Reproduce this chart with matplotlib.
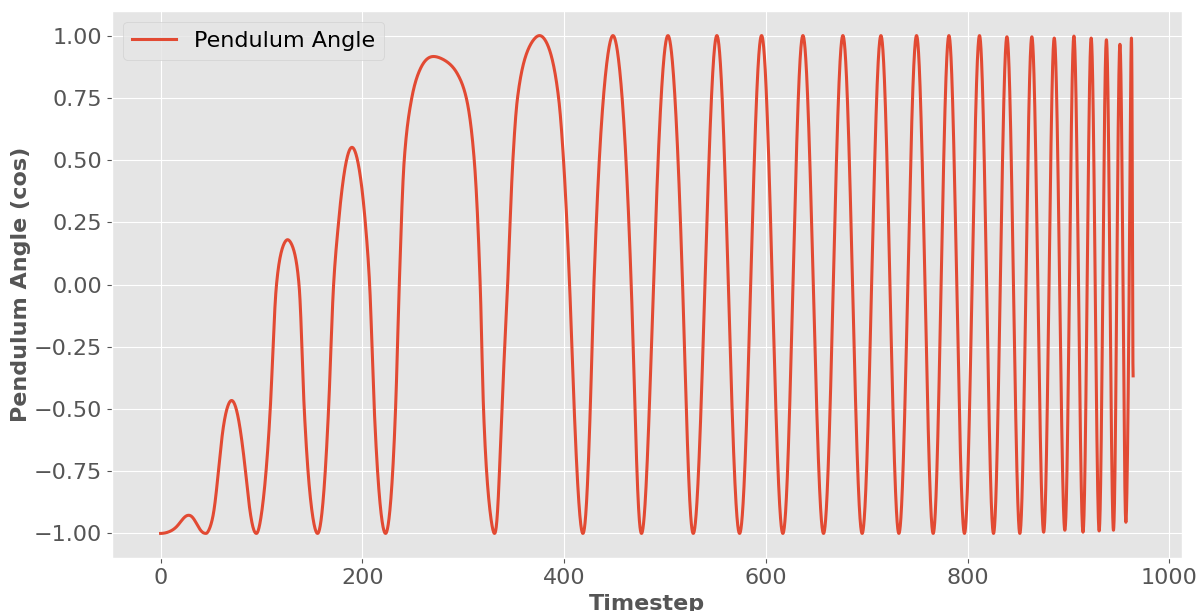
import numpy as np
import matplotlib
matplotlib.use("Agg")
import matplotlib.pyplot as plt

# cos(angle) of the pendulum at selected timesteps (turning points + a few crossings)
timestep = [
    0, 14.5, 27.8, 45, 52.5, 57.5, 61.8, 70.4, 79, 84, 88.9, 95,
    108.7, 114.9, 125.9, 137.2, 142.4, 155.6,
    166.5, 171.5, 176.4, 189.7, 202.9, 207.2, 211.8, 223,
    232.9, 236.6, 241.5, 249, 255.7, 270.6, 293.7, 303, 310.9, 316.8, 320.1, 331,
    338.3, 344, 349.2, 353.8, 375.6, 394.5, 399.4, 405.4, 410, 418.6,
    425.9, 429.5, 448.4, 466.5, 476.7, 488.6, 502.9, 517.4, 528,
    551.4, 573.9, 595.7, 616.8, 636.7, 657.1, 676.3, 695.4, 714, 731.8,
    749.3, 765.8, 781.4, 796.8, 811.7, 825.6, 838.9, 851.7, 863.6, 875.3,
    885.8, 896.3, 905.3, 914.3, 922.4, 930.3, 937.5, 944.5, 950.9, 956.8,
    962.3, 964,
]
cos_angle = [
    -1.0, -0.978, -0.927, -1.0, -0.917, -0.744, -0.584, -0.466, -0.584, -0.744, -0.917, -1.0,
    -0.5, 0.0, 0.18, 0.0, -0.5, -1.0,
    -0.5, 0.0, 0.25, 0.551, 0.25, 0.0, -0.5, -1.0,
    -0.5, 0.0, 0.5, 0.75, 0.85, 0.916, 0.85, 0.75, 0.5, 0.0, -0.5, -1.0,
    -0.5, 0.0, 0.5, 0.75, 1.0, 0.75, 0.5, 0.0, -0.5, -1.0,
    -0.5, 0.0, 1.0, 0.0, -1.0, 0.0, 1.0, 0.0, -1.0,
    1.0, -1.0, 1.0, -1.0, 1.0, -1.0, 1.0, -1.0, 1.0, -1.0,
    1.0, -1.0, 1.0, -1.0, 1.0, -1.0, 0.995, -1.0, 0.995, -0.995,
    0.99, -0.987, 0.998, -0.995, 0.99, -0.99, 0.983, -0.987, 0.965, -0.955,
    0.99, -0.367,
]


def pchip(x, y, xn):
    # monotone cubic hermite (Fritsch-Carlson)
    h = np.diff(x)
    d = np.diff(y) / h
    m = np.zeros_like(y)
    m[0], m[-1] = d[0], d[-1]
    for k in range(1, len(x) - 1):
        if d[k - 1] * d[k] > 0:
            w1 = 2 * h[k] + h[k - 1]
            w2 = h[k] + 2 * h[k - 1]
            m[k] = (w1 + w2) / (w1 / d[k - 1] + w2 / d[k])
    i = np.clip(np.searchsorted(x, xn) - 1, 0, len(h) - 1)
    s = (xn - x[i]) / h[i]
    h00 = 2 * s**3 - 3 * s**2 + 1
    h10 = s**3 - 2 * s**2 + s
    h01 = -2 * s**3 + 3 * s**2
    h11 = s**3 - s**2
    return h00 * y[i] + h10 * h[i] * m[i] + h01 * y[i + 1] + h11 * h[i] * m[i + 1]


def swing_curve(x, y, xn):
    # each half swing between turning points follows a cosine in its own phase;
    # the phase is interpolated monotonically through the sampled points
    x = np.asarray(x, float)
    y = np.asarray(y, float)
    n = len(y)
    turn = [0] + [i for i in range(1, n - 1)
                  if (y[i] - y[i - 1]) * (y[i + 1] - y[i]) < 0] + [n - 1]
    y_turn = y[turn]
    phase = np.zeros(n)
    for k in range(len(turn) - 1):
        a, b = turn[k], turn[k + 1]
        for i in range(a, b + 1):
            f = (y[i] - y[a]) / (y[b] - y[a])
            phase[i] = k * np.pi + np.arccos(np.clip(1 - 2 * f, -1, 1))
    ph = pchip(x, phase, xn)
    k = np.clip(np.floor(ph / np.pi).astype(int), 0, len(turn) - 2)
    local = ph - k * np.pi
    return y_turn[k] + (y_turn[k + 1] - y_turn[k]) * (1 - np.cos(local)) / 2


t = np.linspace(timestep[0], timestep[-1], 9641)
angle = swing_curve(timestep, cos_angle, t)

plt.style.use('ggplot')
fig, ax = plt.subplots(figsize=(12, 6.11), dpi=100)
fig.subplots_adjust(left=0.0933, right=0.9848, bottom=0.0862, top=0.9825)

ax.plot(t, angle, color='#E24A33', linewidth=2.2, label='Pendulum Angle')
ax.set_xlabel('Timestep', fontsize=16, fontweight='bold', color='#555555')
ax.set_ylabel('Pendulum Angle (cos)', fontsize=16, fontweight='bold', color='#555555',
              labelpad=2)
ax.tick_params(labelsize=16)
ax.set_yticks(np.arange(-1.0, 1.01, 0.25))
ax.legend(loc='upper left', fontsize=16)

fig.savefig('out.png')
